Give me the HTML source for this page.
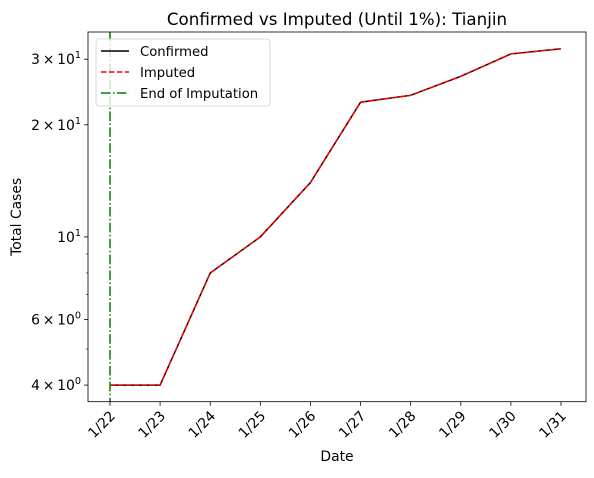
<!DOCTYPE html>
<html><head><meta charset="utf-8"><style>
body{margin:0;background:#fff;}
svg text{font-family:"DejaVu Sans","Liberation Sans",sans-serif;fill:#000;}
</style></head><body>
<svg width="594" height="473" id="c"></svg>
<script>
const categories=["1/22","1/23","1/24","1/25","1/26","1/27","1/28","1/29","1/30","1/31"];
const confirmed=[4,4,8,10,14,23,24,27,31,32];
const imputed=[4,4,8,10,14,23,24,27,31,32];
const majorTicks=[4,6,10,20,30];
const majorLabels=[["4","0"],["6","0"],["10","1"],["2","1"],["3","1"]];
const minorTicks=[5,7,8,9];
const endImputationIndex=0;
const L=88,R=586,T=32,B=401.7;
const yMin=3.61,yMax=35.5;
const NS="http://www.w3.org/2000/svg";
const svg=document.getElementById('c');
function x(i){return 110+i*(561-110)/(categories.length-1);}
function y(v){return B-(Math.log(v)-Math.log(yMin))/(Math.log(yMax)-Math.log(yMin))*(B-T);}
function el(t,a,p){const e=document.createElementNS(NS,t);for(const k in a)e.setAttribute(k,a[k]);(p||svg).appendChild(e);return e;}
let t=el('text',{x:(L+R)/2,y:25,'text-anchor':'middle','font-size':16.7});t.textContent="Confirmed vs Imputed (Until 1%): Tianjin";

majorTicks.forEach((v,i)=>{
 const l=el('line',{x1:L-4,x2:L,y1:y(v),y2:y(v),stroke:'#000','stroke-width':0.8});
 
 const tx=el('text',{x:L-7,y:y(v)+5,'text-anchor':'end','font-size':13.9});
 
 const lb=majorLabels[i];
 if(lb[0]==="10"){tx.innerHTML='10<tspan font-size="9.7" dy="-6">'+lb[1]+'</tspan>';}
 else tx.innerHTML=lb[0]+'\u2009\u00d7\u200910<tspan font-size="9.7" dy="-6">'+lb[1]+'</tspan>';
});
minorTicks.forEach(v=>{const l=el('line',{x1:L-2,x2:L,y1:y(v),y2:y(v),stroke:'#000','stroke-width':0.6});
 });
categories.forEach((c,i)=>{
 const l=el('line',{x1:x(i),x2:x(i),y1:B,y2:B+4,stroke:'#000','stroke-width':0.8});
 
 const tx=el('text',{x:0,y:0,'text-anchor':'end','font-size':13.9,transform:`translate(${x(i)+6},${B+15}) rotate(-45)`});
 tx.textContent=c;
});
t=el('text',{x:(L+R)/2,y:461,'text-anchor':'middle','font-size':13.9});t.textContent="Date";

t=el('text',{x:0,y:0,'text-anchor':'middle','font-size':13.9,transform:`translate(21,${(T+B)/2}) rotate(-90)`});t.textContent="Total Cases";

const p1=el('polyline',{points:confirmed.map((v,i)=>x(i)+','+y(v)).join(' '),fill:'none',stroke:'#000','stroke-width':1.5});

const p2=el('polyline',{points:imputed.map((v,i)=>x(i)+','+y(v)).join(' '),fill:'none',stroke:'#f00','stroke-width':1.5,'stroke-dasharray':'5.5,2.4'});

const vl=el('line',{x1:x(endImputationIndex),x2:x(endImputationIndex),y1:T,y2:B,stroke:'#008000','stroke-width':1.5,'stroke-dasharray':'9.6,2.4,1.5,2.4'});

const fr=el('rect',{x:L,y:T,width:R-L,height:B-T,fill:'none',stroke:'#000','stroke-width':0.8});

const g=el('g',{});
el('rect',{x:96,y:39,width:174,height:67,rx:3,fill:'#fff','fill-opacity':0.8,stroke:'#ccc','stroke-width':0.8},g);
const items=[["Confirmed",'#000',''],["Imputed",'#f00','5.5,2.4'],["End of Imputation",'#008000','9.6,2.4,1.5,2.4']];
items.forEach((it,i)=>{
 const yy=51+i*21;
 const e=el('g',{},g);
 el('line',{x1:101,x2:129,y1:yy,y2:yy,stroke:it[1],'stroke-width':1.5,'stroke-dasharray':it[2]},e);
 const tt=el('text',{x:140,y:yy+5,'font-size':13.2},e);tt.textContent=it[0];
});
</script>
</body></html>
